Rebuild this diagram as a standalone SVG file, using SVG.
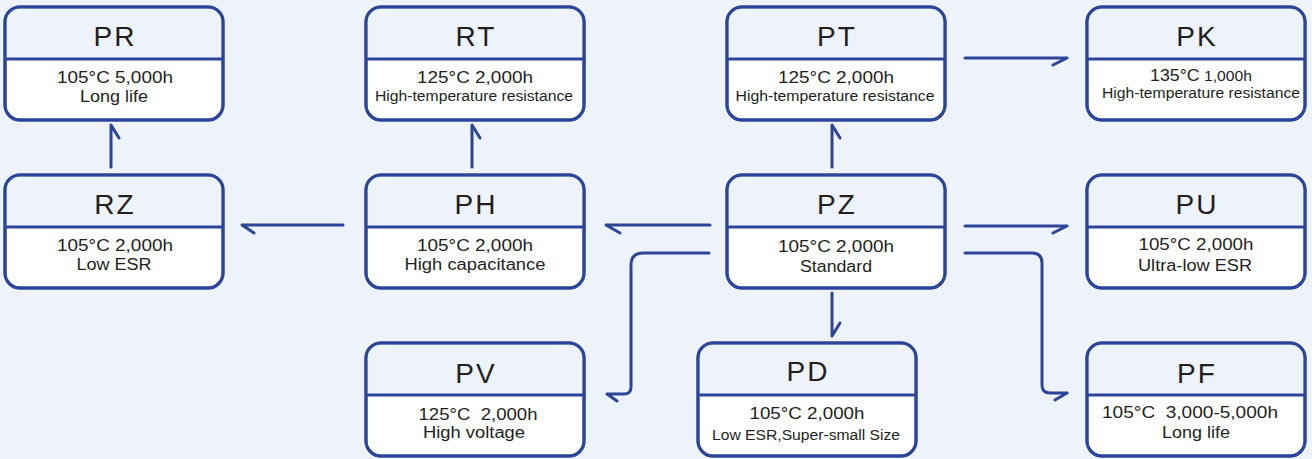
<svg xmlns="http://www.w3.org/2000/svg" width="1312" height="459" viewBox="0 0 1312 459">
<style>
.box{fill:#ffffff;stroke:#2b4599;stroke-width:3}
.hd{fill:#eef3fb}
.dv{stroke:#2b4599;stroke-width:3}
.t{font-family:"Liberation Sans",Arial,sans-serif;font-size:28px;letter-spacing:2px;fill:#231f20;text-anchor:middle}
.b{font-family:"Liberation Sans",Arial,sans-serif;font-size:17px;fill:#231f20;text-anchor:middle}
.s{font-family:"Liberation Sans",Arial,sans-serif;font-size:16px;fill:#231f20;text-anchor:middle}
.x{font-family:"Liberation Sans",Arial,sans-serif;font-size:14px;fill:#231f20;text-anchor:middle}
.c{fill:none;stroke:#2b4599;stroke-width:3;stroke-linecap:round;stroke-linejoin:round}
</style>
<defs>
<g id="card">
<rect x="0" y="0" width="218" height="113" rx="15" class="box"/>
<path d="M1.5,52 V15 Q1.5,1.5 15,1.5 H203 Q216.5,1.5 216.5,15 V52 Z" class="hd"/>
<line x1="0" y1="52" x2="218" y2="52" class="dv"/>
<rect x="0" y="0" width="218" height="113" rx="15" fill="none" stroke="#2b4599" stroke-width="3"/>
</g>
</defs>
<rect x="0" y="0" width="1312" height="459" fill="#eef3fb"/>

<g id="connectors">
<path class="c" d="M111,167 V125 M111,125 l8,13"/>
<path class="c" d="M472,167 V125 M472,125 l8,13"/>
<path class="c" d="M832,167 V125 M832,125 l8,13"/>
<path class="c" d="M965,58 H1067 M1067,58 l-14,7"/>
<path class="c" d="M343,225 H242 M242,225 l12,8"/>
<path class="c" d="M710,225 H606 M606,225 l14,8"/>
<path class="c" d="M965,226 H1067 M1067,226 l-14,7"/>
<path class="c" d="M832,293 V336 M832,336 l8,-13"/>
<path class="c" d="M709,253 H643 Q631,253 631,265 V387 Q631,394 624,394 H607 M607,394 l10,7"/>
<path class="c" d="M965,253 H1032 Q1042,253 1042,263 V385 Q1042,393 1050,393 H1067 M1067,393 l-12,7"/>
</g>

<g id="PR">
<use href="#card" x="5" y="7"/>
<text class="t" x="115" y="46">PR</text>
<text class="b" x="115" y="83" textLength="116" lengthAdjust="spacingAndGlyphs">105°C 5,000h</text>
<text class="s" x="114" y="102" textLength="68" lengthAdjust="spacingAndGlyphs">Long life</text>
</g>
<g id="RT">
<use href="#card" x="366" y="7"/>
<text class="t" x="476" y="46">RT</text>
<text class="b" x="475" y="83" textLength="116" lengthAdjust="spacingAndGlyphs">125°C 2,000h</text>
<text class="x" x="474" y="101" textLength="198" lengthAdjust="spacingAndGlyphs">High-temperature resistance</text>
</g>
<g id="PT">
<use href="#card" x="727" y="7"/>
<text class="t" x="837" y="46">PT</text>
<text class="b" x="836" y="83" textLength="116" lengthAdjust="spacingAndGlyphs">125°C 2,000h</text>
<text class="x" x="835" y="101" textLength="199" lengthAdjust="spacingAndGlyphs">High-temperature resistance</text>
</g>
<g id="PK">
<use href="#card" x="1087" y="7"/>
<text class="t" x="1197" y="46">PK</text>
<text class="b" x="1201" y="81" textLength="102" lengthAdjust="spacingAndGlyphs"><tspan font-size="17">135°C</tspan><tspan font-size="15"> 1,000h</tspan></text>
<text class="x" x="1201" y="98" textLength="198" lengthAdjust="spacingAndGlyphs">High-temperature resistance</text>
</g>
<g id="RZ">
<use href="#card" x="5" y="175"/>
<text class="t" x="115" y="214">RZ</text>
<text class="b" x="115" y="251" textLength="116" lengthAdjust="spacingAndGlyphs">105°C 2,000h</text>
<text class="s" x="114" y="270" textLength="75" lengthAdjust="spacingAndGlyphs">Low ESR</text>
</g>
<g id="PH">
<use href="#card" x="366" y="175"/>
<text class="t" x="476" y="214">PH</text>
<text class="b" x="475" y="251" textLength="116" lengthAdjust="spacingAndGlyphs">105°C 2,000h</text>
<text class="s" x="475" y="270" textLength="141" lengthAdjust="spacingAndGlyphs">High capacitance</text>
</g>
<g id="PZ">
<use href="#card" x="727" y="175"/>
<text class="t" x="837" y="214">PZ</text>
<text class="b" x="836" y="252" textLength="116" lengthAdjust="spacingAndGlyphs">105°C 2,000h</text>
<text class="s" x="836" y="272" textLength="72" lengthAdjust="spacingAndGlyphs">Standard</text>
</g>
<g id="PU">
<use href="#card" x="1087" y="175"/>
<text class="t" x="1197" y="214">PU</text>
<text class="b" x="1196" y="250" textLength="115" lengthAdjust="spacingAndGlyphs">105°C 2,000h</text>
<text class="s" x="1195" y="271" textLength="114" lengthAdjust="spacingAndGlyphs">Ultra-low ESR</text>
</g>
<g id="PV">
<use href="#card" x="366" y="343"/>
<text class="t" x="476" y="383">PV</text>
<text class="b" x="478" y="420" textLength="119" lengthAdjust="spacingAndGlyphs" xml:space="preserve">125°C  2,000h</text>
<text class="s" x="474" y="438" textLength="102" lengthAdjust="spacingAndGlyphs">High voltage</text>
</g>
<g id="PD">
<use href="#card" x="698" y="343"/>
<text class="t" x="808" y="381">PD</text>
<text class="b" x="807" y="419" textLength="115" lengthAdjust="spacingAndGlyphs">105°C 2,000h</text>
<text class="x" x="806" y="440" textLength="188" lengthAdjust="spacingAndGlyphs">Low ESR,Super-small Size</text>
</g>
<g id="PF">
<use href="#card" x="1087" y="343"/>
<text class="t" x="1197" y="383">PF</text>
<text class="b" x="1190" y="418" textLength="176" lengthAdjust="spacingAndGlyphs" xml:space="preserve">105°C  3,000-5,000h</text>
<text class="s" x="1196" y="438" textLength="68" lengthAdjust="spacingAndGlyphs">Long life</text>
</g>
</svg>
